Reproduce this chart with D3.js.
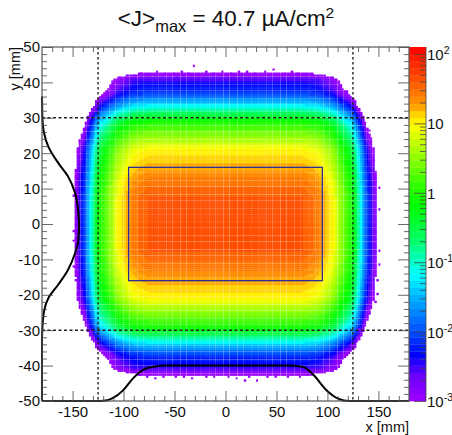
<!DOCTYPE html>
<html>
<head>
<meta charset="utf-8">
<script src="https://cdn.jsdelivr.net/npm/d3@7"></script>
<style>
body { margin: 0; background: #fff; }
text { font-family: "Liberation Sans", Arial, sans-serif; fill: #111; }
.axis text { font-size: 15px; }
.axis path { display: none; }
.axis line { stroke: #444; stroke-width: 0.8; }
</style>
</head>
<body>
<div id="chart"></div>
<script>
// log10(J) along the x axis, one value per 2 mm bin from the centre outward
var xProfile = [1.61,1.61,1.61,1.61,1.61,1.61,1.61,1.61,1.61,1.61,1.61,1.61,1.61,1.61,1.61,
  1.61,1.61,1.61,1.61,1.61,1.61,1.61,1.61,1.61,1.61,1.61,1.61,1.61,1.61,1.61,
  1.61,1.61,1.61,1.61,1.61,1.61,1.61,1.61,1.58,1.56,1.54,1.52,1.50,1.48,1.46,1.42,1.36,1.30,
  1.24,1.17,1.11,1.05,1.00,0.89,0.78,0.66,0.55,0.44,0.33,0.22,0.11,0.00,-0.20,-0.40,-0.70,
  -0.95,-1.20,-1.50,-1.80,-2.05,-2.25,-2.40,-2.60,-2.85,-3.05,-3.30];
// log10(J) along the y axis, one value per bin (100/180 mm) from the centre outward
var yProfile = [1.61,1.61,1.61,1.61,1.61,1.61,1.61,1.61,1.61,1.61,1.61,1.61,1.61,1.61,1.57,1.55,
  1.53,1.51,1.49,1.48,1.46,1.45,1.42,1.39,1.36,1.34,1.31,1.28,1.26,1.23,1.20,1.17,1.14,1.11,
  1.09,1.06,1.03,1.01,0.95,0.88,0.81,0.74,0.67,0.60,0.53,0.46,0.39,0.32,0.24,0.17,0.09,0.00,
  -0.12,-0.24,-0.36,-0.50,-0.65,-0.80,-0.95,-1.10,-1.25,-1.40,-1.52,-1.65,-1.80,-1.95,-2.05,
  -2.13,-2.20,-2.25,-2.30,-2.35,-2.40,-2.50,-2.65,-2.80,-2.95,-3.05,-3.20];
var peakLog = 1.61;
var cornerPower = 1.2;

// isolated low-count cells outside the beam edge [x mm, y mm]
var strayCells = [[-32,44.7],[-68,43.2],[-44,43.3],[-107.6,40.4],[46,43.8],[20,43.2],[12,42.9],[38,42.9],
  [58,42.6],[96,41.2],[140,26.4],[142,24],[134,28.6],[19,-44.4],[31,-44],[150.8,-7.6],[150,-11.4],
  [105,-40.8],[138,-26.6],[108,-38.8],[-150,-2],[-149,-5],[-132,-30.4],[-138,28.4],[-143,23.4],
  [-146,20.4],[-147,15.4],[-60,42.6],[-20,42.8],[70,42.4],[-85,-42.6],[-50,-43.3],[-20,-43.2],
  [10,-43.4],[60,-43],[-122,36],[-112,39],[118,37.6],
  [-90,42],[-84,42.6],[-76,42.2],[-52,42.4],[-38,42.6],[-26,42.2],[-12,42.4],[-4,42.8],[4,42.4],[28,42.6],
  [52,42.2],[64,42.8],[78,42.2],[86,41.8],[-78,-42.8],[-70,-43.4],[-62,-42.8],[-42,-42.9],[-34,-43.4],[-12,-42.9],
  [2,-43],[22,-43],[40,-43.3],[48,-42.9],[72,-43.2],[80,-42.6],[-150,8],[-149,-12],[-148,-16],[-146,-20],
  [-141,-25],[-138,-28],[-127,-33],[-116,-38],[-98,-41],[150,4],[150,10],[149,-16],[148,-20],[146,-22],
  [144,18],[147,12],[128,33],[124,35],[112,39],[-128,32],[-118,37],[-100,41],[130,-30],[122,-34],[116,-37]];

var xTicks = [-150, -100, -50, 0, 50, 100, 150];
var xMinor = [-170,-160,-140,-130,-120,-110,-90,-80,-70,-60,-40,-30,-20,-10,10,20,30,40,60,70,80,90,110,120,130,140,160,170];
var yTicks = [-50, -40, -30, -20, -10, 0, 10, 20, 30, 40, 50];
var yMinor = [];
yTicks.forEach(function(t) { [2, 4, 6, 8].forEach(function(m) { if (t + m < 50) yMinor.push(t + m); }); });

var zDecades = [0.001, 0.01, 0.1, 1, 10, 100];
var zLabels = ["10|-3", "10|-2", "10|-1", "1", "10", "10|2"];
var zMinor = [];
zDecades.forEach(function(d) { [2,3,4,5,6,7,8,9].forEach(function(m) { if (d * m < 126) zMinor.push(d * m); }); });

// black projections drawn along the bottom and left edges [mm, mm]
var bottomCurve = [[-180,-50],[-123,-50],[-116,-49.8],[-110.3,-49.15],[-100.5,-47],[-90.7,-43.6],[-81,-41.2],[-71,-40.3],[-57,-40],
  [0,-40],[60,-40],[75.7,-40.3],[85.5,-42.4],[98.5,-46.8],[111,-49.4],[121,-50],[180,-50]];
var leftCurve = [[-180,-50],[-180,-33],[-179.6,-29.4],[-178,-24.6],[-173.7,-20.9],[-164,-17.1],[-154.4,-12.9],[-147.5,-8.2],[-144.5,-4.8],
  [-143.6,0],[-144.3,3],[-147.5,8.7],[-154.4,13.4],[-164,17.2],[-173.7,21.8],[-178,25.7],[-179.6,30],[-180,36]];

var paletteStops = [0, 0.073, 0.13, 0.215, 0.285, 0.356, 0.393, 0.455, 0.554, 0.61, 0.71, 0.78, 0.814, 0.836, 0.92, 1];
var paletteColors = ["#a000ff","#6a00ff","#0000ff","#0060ff","#00a8ff","#00ffff","#00ffc8","#00ff66",
  "#00ff00","#30ff00","#aaff00","#ffff00","#ffcc00","#ff9900","#ff4400","#ff0000"];
var nLevels = 50;

var width = 452, height = 435;
var plotLeft = 42, plotRight = 409, plotTop = 47, plotBottom = 401;
var palLeft = 409, palRight = 426;

var svg = d3.select("#chart").append("svg")
    .attr("width", width)
    .attr("height", height)
    .style("display", "block");

var ScaleX = d3.scaleLinear().domain([-180, 180]).range([plotLeft, plotRight]);
var ScaleY = d3.scaleLinear().domain([-50, 50]).range([plotBottom, plotTop]);
var ScaleZ = d3.scaleLog().domain([0.001, 126]).range([plotBottom, plotTop]);

var ramp = d3.scaleLinear().domain(paletteStops).range(paletteColors);
var logMin = -3, logSpan = Math.log10(126) + 3;
function levelColor(log) {
  var level = Math.min(nLevels - 1, Math.floor((log - logMin) / logSpan * nLevels));
  return ramp((level + 0.5) / nLevels);
}

// build the cell list: the two read profiles combined bin by bin,
// with the drops from the peak added so the corners round off as in the picture
var cells = [];
var dy = 100 / 180;
xProfile.forEach(function(xv, i) {
  yProfile.forEach(function(yv, j) {
    var dropX = peakLog - xv, dropY = peakLog - yv;
    var drop = Math.pow(Math.pow(dropX, cornerPower) + Math.pow(dropY, cornerPower), 1 / cornerPower);
    var log = peakLog - drop;
    if (log < logMin) return;
    [-1, 1].forEach(function(sx) {
      [-1, 1].forEach(function(sy) {
        cells.push({
          col: sx > 0 ? 90 + i : 89 - i,
          row: sy > 0 ? 90 + j : 89 - j,
          log: log
        });
      });
    });
  });
});
strayCells.forEach(function(c) {
  cells.push({ col: 90 + Math.floor(c[0] / 2), row: 90 + Math.floor(c[1] / dy), log: -2.95 });
});

// the reference shows faint light seams every 3-4 bins, so those cells stop a little short
var cellW = ScaleX(2) - ScaleX(0), cellH = ScaleY(0) - ScaleY(dy);
function isSeam(n) { return (n * 2) % 7 < 2; }

svg.append("g").attr("class", "cells")
  .selectAll("rect").data(cells).enter().append("rect")
    .attr("x", function(d) { return ScaleX((d.col - 90) * 2); })
    .attr("y", function(d) { return ScaleY((d.row - 89) * dy); })
    .attr("width", function(d) { return cellW + (isSeam(d.col) ? -0.12 : 0.4); })
    .attr("height", function(d) { return cellH + (isSeam(d.row) ? -0.12 : 0.4); })
    .attr("fill", function(d) { return levelColor(d.log); });

// palette bar
var levels = d3.range(nLevels);
svg.append("g").attr("class", "palette")
  .selectAll("rect").data(levels).enter().append("rect")
    .attr("x", palLeft)
    .attr("width", palRight - palLeft)
    .attr("y", function(l) { return ScaleZ(Math.pow(10, logMin + (l + 1) / nLevels * logSpan)); })
    .attr("height", (plotBottom - plotTop) / nLevels + 0.3)
    .attr("fill", function(l) { return ramp((l + 0.5) / nLevels); });

// dotted reference lines
var dashV = [-125, 125], dashH = [-30, 30];
svg.append("g").selectAll("line").data(dashV).enter().append("line")
    .attr("x1", function(d) { return ScaleX(d); }).attr("x2", function(d) { return ScaleX(d); })
    .attr("y1", plotTop).attr("y2", plotBottom)
    .attr("stroke", "#222").attr("stroke-width", 1.4).attr("stroke-dasharray", "2.5,2.5");
svg.append("g").selectAll("line").data(dashH).enter().append("line")
    .attr("x1", plotLeft).attr("x2", plotRight)
    .attr("y1", function(d) { return ScaleY(d); }).attr("y2", function(d) { return ScaleY(d); })
    .attr("stroke", "#222").attr("stroke-width", 1.4).attr("stroke-dasharray", "3,2.5");

// footprint box
svg.append("rect")
    .attr("x", ScaleX(-95)).attr("y", ScaleY(16))
    .attr("width", ScaleX(95) - ScaleX(-95))
    .attr("height", ScaleY(-16) - ScaleY(16))
    .attr("fill", "none").attr("stroke", "#2b2f8f").attr("stroke-width", 1.3);

// projections
var line = d3.line()
    .x(function(d) { return ScaleX(d[0]); })
    .y(function(d) { return ScaleY(d[1]); })
    .curve(d3.curveMonotoneX);
var lineV = d3.line()
    .x(function(d) { return ScaleX(d[0]); })
    .y(function(d) { return ScaleY(d[1]); })
    .curve(d3.curveMonotoneY);
svg.append("path").attr("d", line(bottomCurve))
    .attr("fill", "none").attr("stroke", "#000").attr("stroke-width", 2);
svg.append("path").attr("d", lineV(leftCurve))
    .attr("fill", "none").attr("stroke", "#000").attr("stroke-width", 2);

// axes: ROOT style ticks point inward
function ticksOnly(axis) { return axis.tickFormat("").tickPadding(0); }

svg.append("g").attr("class", "axis")
    .attr("transform", "translate(0," + plotBottom + ")")
    .call(d3.axisBottom(ScaleX).tickValues(xTicks).tickSize(-10).tickSizeOuter(0).tickFormat(String))
    .selectAll("text").attr("y", 4).attr("dy", "0.8em");
svg.append("g").attr("class", "axis")
    .attr("transform", "translate(0," + plotBottom + ")")
    .call(ticksOnly(d3.axisBottom(ScaleX).tickValues(xMinor).tickSize(-5).tickSizeOuter(0)));
svg.append("g").attr("class", "axis")
    .attr("transform", "translate(0," + plotTop + ")")
    .call(ticksOnly(d3.axisTop(ScaleX).tickValues(xTicks).tickSize(-10).tickSizeOuter(0)));
svg.append("g").attr("class", "axis")
    .attr("transform", "translate(0," + plotTop + ")")
    .call(ticksOnly(d3.axisTop(ScaleX).tickValues(xMinor).tickSize(-5).tickSizeOuter(0)));

svg.append("g").attr("class", "axis")
    .attr("transform", "translate(" + plotLeft + ",0)")
    .call(d3.axisLeft(ScaleY).tickValues(yTicks).tickSize(-11).tickSizeOuter(0).tickFormat(String))
    .selectAll("text").attr("x", -2);
svg.append("g").attr("class", "axis")
    .attr("transform", "translate(" + plotLeft + ",0)")
    .call(ticksOnly(d3.axisLeft(ScaleY).tickValues(yMinor).tickSize(-5).tickSizeOuter(0)));
svg.append("g").attr("class", "axis")
    .attr("transform", "translate(" + plotRight + ",0)")
    .call(ticksOnly(d3.axisRight(ScaleY).tickValues(yTicks).tickSize(-11).tickSizeOuter(0)));
svg.append("g").attr("class", "axis")
    .attr("transform", "translate(" + plotRight + ",0)")
    .call(ticksOnly(d3.axisRight(ScaleY).tickValues(yMinor).tickSize(-5).tickSizeOuter(0)));

// frame
svg.append("rect")
    .attr("x", plotLeft).attr("y", plotTop)
    .attr("width", plotRight - plotLeft).attr("height", plotBottom - plotTop)
    .attr("fill", "none").attr("stroke", "#555").attr("stroke-width", 1.2);
svg.append("line").attr("x1", palRight).attr("x2", palRight).attr("y1", plotTop).attr("y2", plotBottom)
    .attr("stroke", "#444").attr("stroke-width", 0.8);

// palette axis
svg.append("g").attr("class", "axis")
    .attr("transform", "translate(" + palRight + ",0)")
    .call(d3.axisRight(ScaleZ).tickValues(zDecades).tickSize(-12).tickSizeOuter(0).tickFormat(""))
    .selectAll("line").attr("stroke", "#222");
svg.append("g").attr("class", "axis")
    .attr("transform", "translate(" + palRight + ",0)")
    .call(d3.axisRight(ScaleZ).tickValues(zMinor).tickSize(-6).tickSizeOuter(0).tickFormat(""))
    .selectAll("line").attr("stroke", "#222");

var zText = svg.append("g").selectAll("text").data(zDecades).enter().append("text")
    .attr("x", palRight + 1)
    .attr("y", function(d) { return ScaleZ(d) + 6; })
    .style("font-size", "15px");
zText.each(function(d, i) {
  var parts = zLabels[i].split("|");
  var t = d3.select(this);
  t.append("tspan").text(parts[0]);
  if (parts[1]) t.append("tspan").attr("dy", -6).style("font-size", "10.5px").text(parts[1]);
});

// axis titles
svg.append("text").attr("x", plotRight).attr("y", 431.5)
    .attr("text-anchor", "end").style("font-size", "14.5px").text("x [mm]");
svg.append("text")
    .attr("transform", "translate(20," + plotTop + ")rotate(-90)")
    .attr("text-anchor", "end").style("font-size", "14.5px").text("y [mm]");

// title
var title = svg.append("text").attr("x", 226).attr("y", 26)
    .attr("text-anchor", "middle").style("font-size", "22.4px");
title.append("tspan").text("<J>");
title.append("tspan").attr("dy", 6).style("font-size", "16.5px").text("max");
title.append("tspan").attr("dy", -6).text(" = 40.7 \u00b5A/cm");
title.append("tspan").attr("dy", -8).style("font-size", "15.5px").text("2");
</script>
</body>
</html>
